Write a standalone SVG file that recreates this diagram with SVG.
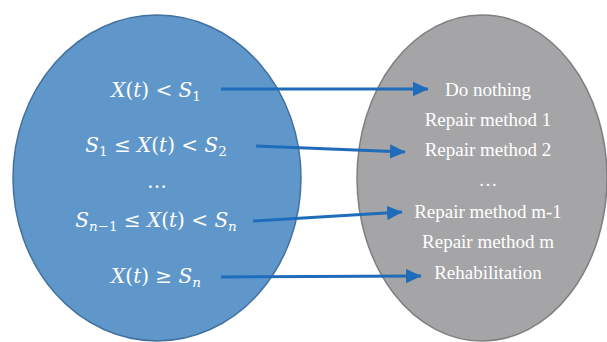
<svg xmlns="http://www.w3.org/2000/svg" width="607" height="342" viewBox="0 0 607 342">
<defs>
<marker id="ah" markerWidth="6" markerHeight="6" refX="5" refY="3" orient="auto" markerUnits="strokeWidth">
<path d="M0,0.6 L5.2,3 L0,5.4 Z" fill="#1F6DBA"/>
</marker>
<style>
.m{font-family:"DejaVu Serif","Liberation Serif",serif;font-size:20px;fill:#fff}
.m .i{font-style:italic}
.sub{font-size:13.5px}
.r{font-family:"Liberation Serif","Times New Roman",serif;font-size:19px;fill:#fff;text-anchor:middle}
.c{stroke:#1F6DBA;stroke-width:3;fill:none;marker-end:url(#ah)}
</style>
</defs>
<rect width="607" height="342" fill="#fff"/>
<g id="conditions">
<ellipse cx="157" cy="178" rx="144" ry="163" fill="#6097CB" stroke="#41719C" stroke-width="1.5"/>
<text class="m" x="156" y="97" text-anchor="middle"><tspan class="i">X</tspan>(<tspan class="i">t</tspan>) &lt; <tspan class="i">S</tspan><tspan class="sub" dy="4">1</tspan></text>
<text class="m" x="156" y="152" text-anchor="middle"><tspan class="i">S</tspan><tspan class="sub" dy="4">1</tspan><tspan dy="-4"> ≤ </tspan><tspan class="i">X</tspan>(<tspan class="i">t</tspan>) &lt; <tspan class="i">S</tspan><tspan class="sub" dy="4">2</tspan></text>
<text class="m" x="157" y="188" text-anchor="middle">…</text>
<text class="m" x="156" y="227" text-anchor="middle"><tspan class="i">S</tspan><tspan class="sub" dy="4"><tspan class="i">n</tspan>−1</tspan><tspan dy="-4"> ≤ </tspan><tspan class="i">X</tspan>(<tspan class="i">t</tspan>) &lt; <tspan class="i">S</tspan><tspan class="sub i" dy="4">n</tspan></text>
<text class="m" x="156" y="283" text-anchor="middle"><tspan class="i">X</tspan>(<tspan class="i">t</tspan>) ≥ <tspan class="i">S</tspan><tspan class="sub i" dy="4">n</tspan></text>
</g>
<g id="actions">
<ellipse cx="482" cy="178" rx="125" ry="163" fill="#A5A5A7" stroke="#7F7F7F" stroke-width="1.5"/>
<text class="r" x="488" y="96">Do nothing</text>
<text class="r" x="488" y="126">Repair method 1</text>
<text class="r" x="488" y="156">Repair method 2</text>
<text class="r" x="488" y="186">…</text>
<text class="r" x="488" y="218">Repair method m-1</text>
<text class="r" x="488" y="248">Repair method m</text>
<text class="r" x="488" y="279">Rehabilitation</text>
</g>
<g id="connectors">
<line class="c" x1="221" y1="89" x2="428" y2="89"/>
<line class="c" x1="256" y1="146" x2="405" y2="152"/>
<line class="c" x1="253" y1="221" x2="402" y2="212"/>
<line class="c" x1="221" y1="277" x2="421" y2="276"/>
</g>
</svg>
